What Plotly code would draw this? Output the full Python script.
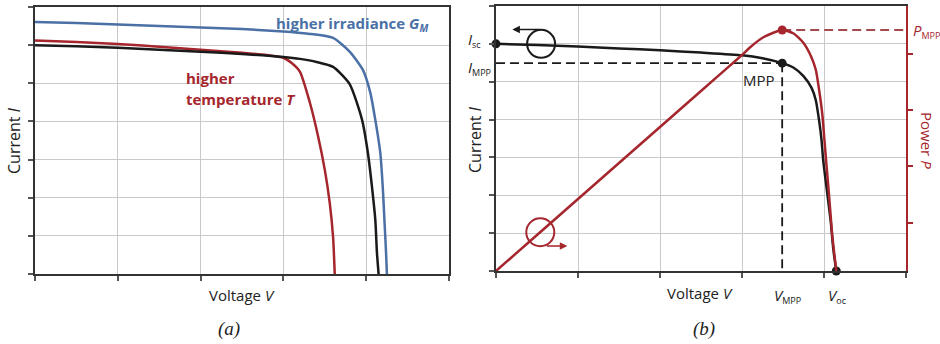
import plotly.graph_objects as go

# ---------------- data ----------------
# panel (a): I-V curves
v_a_ref = [0, 0.5, 1.0, 1.5, 2.0, 2.5, 3.0, 3.2, 3.4, 3.6, 3.8, 3.95, 4.02, 4.07, 4.11, 4.13, 4.15]
i_a_ref = [6.0, 5.97, 5.93, 5.88, 5.83, 5.77, 5.69, 5.64, 5.56, 5.43, 4.98, 4.04, 3.18, 2.28, 1.42, 0.55, 0.0]

v_a_irr = [0, 0.5, 1.0, 1.5, 2.0, 2.5, 3.0, 3.3, 3.6, 3.8, 3.96, 4.05, 4.11, 4.17, 4.2, 4.22, 4.24, 4.25]
i_a_irr = [6.61, 6.58, 6.54, 6.5, 6.46, 6.42, 6.36, 6.3, 6.19, 5.83, 5.35, 4.75, 4.04, 3.18, 2.28, 1.42, 0.55, 0.0]

v_a_temp = [0, 0.5, 1.0, 1.5, 2.0, 2.5, 2.8, 3.0, 3.1, 3.2, 3.32, 3.42, 3.5, 3.56, 3.6, 3.62]
i_a_temp = [6.12, 6.08, 6.03, 5.96, 5.88, 5.8, 5.74, 5.67, 5.53, 5.3, 4.49, 3.6, 2.73, 1.86, 0.97, 0.0]

# panel (b): I-V and P-V curves
v_b = [0, 0.5, 1.0, 1.5, 2.0, 2.5, 3.0, 3.25, 3.49, 3.63, 3.75, 3.85, 3.9, 3.94, 3.97, 3.99, 4.03, 4.08, 4.115, 4.15]
i_b = [6.0, 5.97, 5.93, 5.88, 5.83, 5.77, 5.70, 5.62, 5.49, 5.37, 5.15, 4.83, 4.51, 3.98, 3.46, 2.93, 2.22, 1.35, 0.55, 0.0]

v_p = [0, 0.5, 1.0, 1.5, 2.0, 2.5, 3.0, 3.1, 3.26, 3.49, 3.63, 3.75, 3.84, 3.9, 3.94, 3.98, 4.005, 4.03, 4.066, 4.1, 4.15]
p_b = [0, 2.88, 5.76, 8.64, 11.52, 14.4, 17.28, 17.9, 18.7, 19.28, 19.0, 18.24, 17.2, 16.1, 14.5, 12.5, 10.5, 8.5, 5.7, 2.9, 0.0]

I_SC = 6.0
V_MPP = 3.49
I_MPP = 5.49
P_MPP = 19.28
V_OC = 4.15

grid_v = [0, 1, 2, 3, 4, 5]
grid_i = [0, 1, 2, 3, 4, 5, 6, 7]
power_ticks = [3.84, 8.4, 12.88, 17.36]

# ---------------- styles ----------------
W, H = 940, 344
BLACK = "#1a1a1a"
RED = "#a5262d"
RED_DASH = "#a34a4f"
BLUE = "#4a70a6"
GRID = "#c9c9c9"
AXIS = "#333333"
FONT = "Open Sans"


def px(x):
    return x / W


def py(y):
    return 1 - y / H


def sub(t, size=9):
    return '<sub><span style="font-size:%dpx">%s</span></sub>' % (size, t)


fig = go.Figure()

line_kw = dict(shape="spline", smoothing=0.6, width=2.5)

fig.add_trace(go.Scatter(x=v_a_irr, y=i_a_irr, mode="lines", line=dict(color=BLUE, **line_kw), xaxis="x", yaxis="y"))
fig.add_trace(go.Scatter(x=v_a_temp, y=i_a_temp, mode="lines", line=dict(color=RED, **line_kw), xaxis="x", yaxis="y"))
fig.add_trace(go.Scatter(x=v_a_ref, y=i_a_ref, mode="lines", line=dict(color=BLACK, **line_kw), xaxis="x", yaxis="y"))

# panel (b)
fig.add_trace(go.Scatter(x=[0, V_MPP], y=[I_MPP, I_MPP], mode="lines",
                         line=dict(color=BLACK, width=1.8, dash="9px,5px"), xaxis="x2", yaxis="y2"))
fig.add_trace(go.Scatter(x=[V_MPP, V_MPP], y=[I_MPP, 0], mode="lines",
                         line=dict(color=BLACK, width=1.8, dash="9px,5px"), xaxis="x2", yaxis="y2"))
fig.add_trace(go.Scatter(x=[V_MPP, 5], y=[P_MPP, P_MPP], mode="lines",
                         line=dict(color=RED_DASH, width=1.8, dash="9px,5px"), xaxis="x2", yaxis="y3"))
fig.add_trace(go.Scatter(x=v_p, y=p_b, mode="lines", line=dict(color=RED, **line_kw), xaxis="x2", yaxis="y3"))
fig.add_trace(go.Scatter(x=v_b, y=i_b, mode="lines", line=dict(color=BLACK, **line_kw), xaxis="x2", yaxis="y2"))
fig.add_trace(go.Scatter(x=[0, V_MPP, V_OC], y=[I_SC, I_MPP, 0], mode="markers",
                         marker=dict(color=BLACK, size=9), cliponaxis=False, xaxis="x2", yaxis="y2"))
fig.add_trace(go.Scatter(x=[V_MPP], y=[P_MPP], mode="markers",
                         marker=dict(color=RED, size=9), cliponaxis=False, xaxis="x2", yaxis="y3"))

axis_common = dict(showline=True, linecolor=AXIS, linewidth=2, ticks="outside", ticklen=5,
                   tickwidth=1.5, tickcolor="#555555", showticklabels=False, showgrid=True,
                   gridcolor=GRID, gridwidth=1, zeroline=False)

fig.update_layout(
    width=W, height=H, margin=dict(l=0, r=0, t=0, b=0),
    paper_bgcolor="white", plot_bgcolor="white", showlegend=False,
    font=dict(family=FONT, size=15, color="#222222"),
    xaxis=dict(domain=[px(35), px(449)], range=[0, 5], tickvals=grid_v, anchor="y", mirror=True, **axis_common),
    yaxis=dict(domain=[py(274), py(7)], range=[0, 7], tickvals=grid_i, anchor="x", mirror=True, **axis_common),
    xaxis2=dict(domain=[px(496), px(906)], range=[0, 5], tickvals=grid_v, anchor="y2", mirror=True, **axis_common),
    yaxis2=dict(domain=[py(271), py(6)], range=[0, 7], tickvals=grid_i, anchor="x2", mirror=False, **axis_common),
    yaxis3=dict(overlaying="y2", side="right", anchor="x2", range=[0, 21.2], tickvals=power_ticks,
                showline=True, linecolor=RED, linewidth=2, ticks="outside", ticklen=5, tickwidth=1.5,
                tickcolor=RED, showticklabels=False, showgrid=False, zeroline=False),
)

# circles with arrows marking which axis belongs to each curve
fig.add_shape(type="circle", xref="x2", yref="y2", xsizemode="pixel", ysizemode="pixel",
              xanchor=0.55, yanchor=I_SC, x0=-14, x1=14, y0=-14, y1=14,
              line=dict(color=BLACK, width=2))
fig.add_shape(type="circle", xref="x2", yref="y3", xsizemode="pixel", ysizemode="pixel",
              xanchor=0.54, yanchor=3.1, x0=-14, x1=14, y0=-14, y1=14,
              line=dict(color=RED, width=2))

fig.add_annotation(x=0.2, y=6.38, ax=0.55, ay=6.38, xref="x2", yref="y2", axref="x2", ayref="y2",
                   text="", showarrow=True, arrowhead=2, arrowsize=1, arrowwidth=1.5, arrowcolor=BLACK)
fig.add_annotation(x=0.87, y=2.0, ax=0.6, ay=2.0, xref="x2", yref="y3", axref="x2", ayref="y3",
                   text="", showarrow=True, arrowhead=2, arrowsize=1, arrowwidth=1.5, arrowcolor=RED)


def label(text, x, y, xanchor="center", yanchor="middle", color="#222222", size=15, angle=0, family=FONT,
          xref="paper", xshift=0):
    fig.add_annotation(text=text, x=x, y=y, xref=xref, yref="paper", xanchor=xanchor, yanchor=yanchor,
                       showarrow=False, textangle=angle, xshift=xshift,
                       font=dict(color=color, size=size, family=family))


# panel (a) labels
label("<b>higher irradiance <i>G</i>" + sub("<i>M</i>", 10) + "</b>", px(274), py(24), xanchor="left", color=BLUE)
label("<b>higher</b>", px(184), py(78), xanchor="left", color=RED)
label("<b>temperature <i>T</i></b>", px(184), py(99), xanchor="left", color=RED)
label("Current <i>I</i>", px(14), py(141), angle=-90, size=16)
label("Voltage <i>V</i>", px(242), py(295))
label("<i>(a)</i>", px(229), py(329), family="Liberation Serif", size=19)

# panel (b) labels
label("Current <i>I</i>", px(475), py(140), angle=-90, size=16)
label("Voltage <i>V</i>", px(700), py(293))
label("<i>(b)</i>", px(704), py(329), family="Liberation Serif", size=19)
label("<i>I</i>" + sub("sc"), px(466), py(40), xanchor="left")
label("<i>I</i>" + sub("MPP"), px(466), py(68), xanchor="left")
label("MPP", px(777), py(80), xanchor="right")
label("<i>V</i>" + sub("MPP"), V_MPP, py(296), xanchor="left", xref="x2", xshift=-10)
label("<i>V</i>" + sub("oc"), V_OC, py(296), xanchor="left", xref="x2", xshift=-10)
label("<i>P</i>" + sub("MPP"), px(911), py(31), xanchor="left", color=RED)
label("Power <i>P</i>", px(927), py(140), angle=90, color=RED)

fig.write_html("out.html")
